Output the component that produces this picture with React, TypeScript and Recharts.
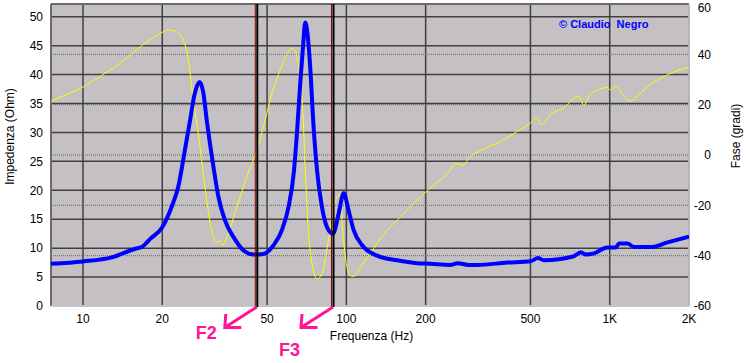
import { LineChart, Line, XAxis, YAxis, CartesianGrid, ReferenceLine, Customized } from 'recharts'

// impedance curve (Ohm)
const impFreq = [
  7.56, 10, 12.85, 15.8, 16.7, 18, 20, 21.7, 23, 24.3, 25.5, 26.5, 27.7, 28.6, 29.5, 31.3, 32.7, 34.6,
  37.3, 40.7, 44.4, 48.5, 52.9, 56.9, 60.3, 63.1, 64.9, 66.8, 68.5, 69.8, 71.2, 72.9, 75.1, 77.4, 80.8,
  84.5, 89, 93.5, 97.7, 102, 106.6, 114.8, 131, 156, 186, 208, 248, 265, 290, 314, 408, 501, 534, 563,
  731, 776, 811, 872, 979, 1054, 1085, 1167, 1238, 1432, 1657, 2000,
]
const impOhm = [
  7.3, 7.7, 8.4, 9.9, 10.2, 11.6, 13.6, 17.1, 20.6, 26.6, 32.1, 36.5, 38.7, 37, 32.1, 24.0, 18.8, 14.8,
  11.9, 9.6, 8.9, 9.0, 10.5, 13.1, 17.1, 22.9, 29.8, 38.4, 45, 49.0, 47, 41.3, 30.9, 23.4, 17.1,
  13.6, 12.5, 16.0, 19.5, 16.5, 13.1, 10.5, 8.7, 7.9, 7.4, 7.3, 7.1, 7.4, 7.1, 7.1, 7.5, 7.75, 8.3, 7.9,
  8.6, 9.3, 8.9, 9.1, 10.1, 10.1, 10.8, 10.8, 10.2, 10.2, 11.0, 12.0,
]

// phase curve (degrees)
const phaseFreq = [
  7.56, 8.55, 10, 11.8, 13.4, 15.3, 17.2, 19.3, 21.1, 22.4, 23.7, 25.1, 26.2, 27.4, 28.2, 29.5, 30.8,
  31.7, 32.3, 33.0, 33.9, 35.6, 38.4, 41.9, 45.5, 48.5, 51.4, 55.3, 59.5, 62.2, 64.6, 66.1, 68.2, 69.8,
  71.9, 74.1, 77.4, 80.8, 83.9, 86.9, 89.5, 92.2, 94.4, 97.1, 100, 103.6, 106.6, 113, 123, 139, 156,
  180, 208, 248, 259, 276, 296, 324, 385, 446, 501, 527, 550, 597, 670, 764, 798, 834, 910, 979, 1009,
  1054, 1117, 1202, 1275, 1391, 1563, 1757, 2000,
]
const phaseDeg = [
  21.4, 23.8, 27.0, 31.7, 35.4, 40.1, 44.5, 47.8, 49.7, 49.2, 46.8, 38.1, 22.1, 8.8, -1.9, -17.9, -29.9,
  -33.9, -34.7, -33.9, -35.9, -31.2, -20.6, -8.6, 1.4, 11.4, 22.1, 32.1, 40.1, 42.4, 40.1, 33.4, 19.4, -6,
  -31.2, -43.2, -49.2, -47.2, -39.2, -28.6, -20.6, -16.6, -15.9, -31, -43.2, -47.9, -48.3, -44.6, -39.2, -31.2, -25.9,
  -19.2, -13.2, -5.9, -3.2, -4.1, -0.6, 1.8, 5.4, 9.4, 12.8, 14.8, 12.1, 16.1, 18.8, 23.4, 19.7, 23.4, 26.1, 26.8, 25.8,
  27.2, 24.1, 21.4, 23.4, 27.2, 30.5, 33.0, 35.0,
]

const freqTicks = [10, 20, 50, 100, 200, 500, 1000, 2000]
const ohmTicks = [0, 5, 10, 15, 20, 25, 30, 35, 40, 45, 50]
const degTicks = [-60, -40, -20, 0, 20, 40, 60]

const markerNames = ['F2', 'F3']
const markerFreq = [45.7, 89]

const impData = impFreq.map((f, i) => ({ f, z: impOhm[i] }))
const phaseData = phaseFreq.map((f, i) => ({ f, p: phaseDeg[i] }))

const FONT = '"Liberation Sans", Arial, sans-serif'
const PINK = '#ff1493'
const FREQ_MIN = 7.56
const FREQ_MAX = 2000
const OHM_MAX = 52.2

const fmtFreq = (v: number) => (v >= 1000 ? `${v / 1000}K` : `${v}`)

// vertical marker + pink arrow and label under the plot
function markerShape(name: string, idx: number) {
  return (props: any) => {
    const x = props.x1
    const top = Math.min(props.y1, props.y2)
    const bottom = Math.max(props.y1, props.y2)
    const tx = x - 32
    const ty = bottom + 21.5
    const label =
      idx === 0
        ? { x: tx - 8, y: ty + 11, anchor: 'end' }
        : { x: tx - 22, y: ty + 28, anchor: 'start' }
    return (
      <g>
        <line x1={x - 1.5} x2={x - 1.5} y1={top} y2={bottom + 1} stroke="#800000" strokeWidth={1} />
        <line x1={x + 0.5} x2={x + 0.5} y1={top} y2={bottom + 1} stroke="#000" strokeWidth={2} />
        <path
          d={`M${x},${bottom + 1} L${tx},${ty} M${tx + 16.5},${ty} L${tx},${ty} L${tx + 1},${ty - 13.5}`}
          stroke={PINK}
          strokeWidth={3}
          fill="none"
        />
        <text x={label.x} y={label.y} textAnchor={label.anchor} fill={PINK} fontSize={18} fontWeight="bold" fontFamily={FONT}>
          {name}
        </text>
      </g>
    )
  }
}

function Titles() {
  return (
    <g fontFamily={FONT} fontSize={12} fill="#000">
      <text x={13.5} y={136.5} textAnchor="middle" transform="rotate(-90 13.5 136.5)">
        Impedenza (Ohm)
      </text>
      <text x={740} y={136} textAnchor="middle" transform="rotate(-90 740 136)">
        Fase (gradi)
      </text>
      <text x={371.5} y={339.5} textAnchor="middle">
        Frequenza (Hz)
      </text>
      <text x={559} y={28} fill="#0000ff" fontSize={11} fontWeight="bold" style={{ whiteSpace: 'pre' }}>
        {'© Claudio  Negro'}
      </text>
    </g>
  )
}

export default function App() {
  return (
    <div style={{ position: 'absolute', left: 0, top: 0, background: '#fff', fontFamily: FONT }}>
      <LineChart width={746} height={363} margin={{ top: 4, right: 0, bottom: 0, left: 0 }}>
        <CartesianGrid yAxisId="left" fill="#c4c0c4" stroke="#404040" strokeWidth={1.5} />
        <CartesianGrid yAxisId="right" vertical={false} stroke="#5a6e6e" strokeDasharray="1 1" />
        <XAxis
          dataKey="f"
          type="number"
          scale="log"
          domain={[FREQ_MIN, FREQ_MAX]}
          allowDataOverflow
          ticks={freqTicks}
          tickFormatter={fmtFreq}
          axisLine={false}
          tickLine={false}
          height={57}
          tick={{ fontSize: 12, fill: '#000' }}
        />
        <YAxis
          yAxisId="left"
          domain={[0, OHM_MAX]}
          ticks={ohmTicks}
          allowDataOverflow
          axisLine={false}
          tickLine={false}
          width={51}
          tick={{ fontSize: 12, fill: '#000' }}
        />
        <YAxis
          yAxisId="right"
          orientation="right"
          domain={[-60, 60]}
          ticks={degTicks}
          axisLine={false}
          tickLine={false}
          width={57}
          tick={{ fontSize: 12, fill: '#000', textAnchor: 'end', dx: 14 }}
        />
        <ReferenceLine yAxisId="left" y={OHM_MAX} stroke="#6a6a6a" strokeWidth={2} />
        <ReferenceLine yAxisId="left" x={FREQ_MIN} stroke="#6a6a6a" strokeWidth={2} />
        <ReferenceLine yAxisId="left" y={0} stroke="#e4e4e4" strokeWidth={1.5} />
        <ReferenceLine yAxisId="left" x={FREQ_MAX} stroke="#d0d0d0" strokeWidth={1.5} />
        <Line
          data={phaseData}
          yAxisId="right"
          dataKey="p"
          type="monotone"
          stroke="#ffff00"
          strokeWidth={1}
          dot={false}
          isAnimationActive={false}
        />
        <Line
          data={impData}
          yAxisId="left"
          dataKey="z"
          type="monotone"
          stroke="#0000ff"
          strokeWidth={4}
          dot={false}
          isAnimationActive={false}
        />
        {markerFreq.map((f, i) => (
          <ReferenceLine key={markerNames[i]} yAxisId="left" x={f} shape={markerShape(markerNames[i], i)} />
        ))}
        <Customized component={<Titles />} />
      </LineChart>
    </div>
  )
}
